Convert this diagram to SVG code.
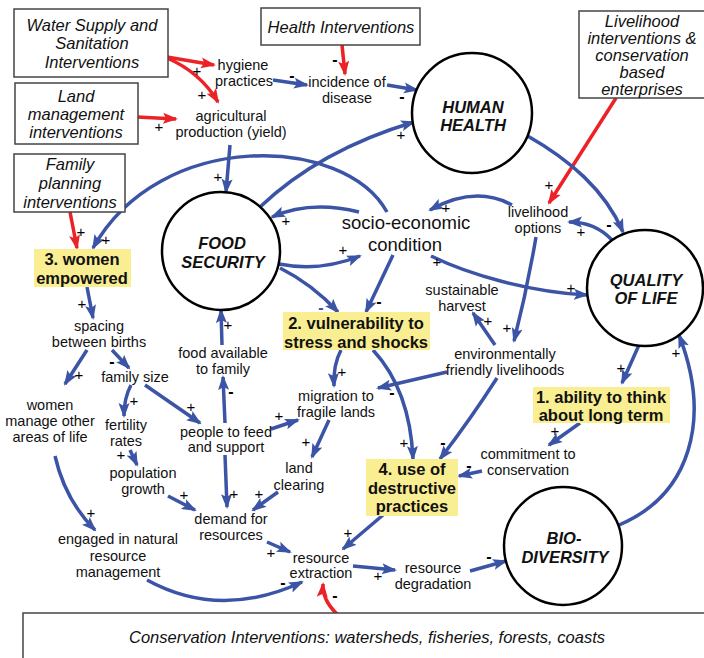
<svg xmlns="http://www.w3.org/2000/svg" width="704" height="658" viewBox="0 0 704 658">
<defs>
<marker id="ab" markerUnits="userSpaceOnUse" markerWidth="16" markerHeight="12" refX="13" refY="6" orient="auto"><path d="M0,0.5 L15,6 L0,11.5 L3,6 z" fill="#3b54a5"/></marker>
<marker id="ar" markerUnits="userSpaceOnUse" markerWidth="16" markerHeight="12" refX="13" refY="6" orient="auto"><path d="M0,0.5 L15,6 L0,11.5 L3,6 z" fill="#ec2227"/></marker>
<style>
text{font-family:"Liberation Sans",Arial,sans-serif;fill:#111;text-anchor:middle}
.lbl{font-size:14.5px}
.se{font-size:18.5px}
.bx{font-size:16.5px;font-style:italic}
.hl{font-size:16.5px;font-weight:bold}
.ct{font-size:16.5px;font-weight:bold;font-style:italic}
.sg{font-size:15px;fill:#000}
.mn{font-size:16px;font-weight:bold;fill:#000}
.box{fill:#fff;stroke:#444;stroke-width:1.5}
.yel{fill:#f9ee91}
.circ{fill:#fff;stroke:#000;stroke-width:2.5}
.b{fill:none;stroke:#3b54a5;stroke-width:3.5;marker-end:url(#ab)}
.r{fill:none;stroke:#ec2227;stroke-width:3.5;marker-end:url(#ar)}
</style>
</defs>
<rect width="704" height="658" fill="#fff"/>

<g id="connectors">
<path class="r" d="M167 57 L214 65"/>
<path class="r" d="M167 58 Q200 72 218 102"/>
<path class="r" d="M137 117 L176 119"/>
<path class="r" d="M342 45 L345 74"/>
<path class="r" d="M616 98 L549 203"/>
<path class="r" d="M70 212 L77 248"/>
<path class="r" d="M338 615 Q322 600 323 584"/>

<path class="b" d="M273 80 L307 85"/>
<path class="b" d="M387 85 L417 90"/>
<path class="b" d="M230 145 L226 192"/>
<path class="b" d="M260 207 Q320 150 414 122"/>
<path class="b" d="M387 212 C345 135 160 128 93 248"/>
<path class="b" d="M526 135 C570 160 605 190 623 232"/>
<path class="b" d="M359 212 Q310 200 272 217"/>
<path class="b" d="M279 264 Q320 272 360 256"/>
<path class="b" d="M280 268 Q312 284 338 312"/>
<path class="b" d="M393 255 L366 312"/>
<path class="b" d="M612 240 Q595 222 569 222"/>
<path class="b" d="M512 205 Q475 185 430 210"/>
<path class="b" d="M536 237 Q527 290 514 341"/>
<path class="b" d="M431 256 C470 275 530 292 587 295"/>
<path class="b" d="M495 345 L473 313"/>
<path class="b" d="M447 372 L378 388"/>
<path class="b" d="M497 378 Q470 420 440 459"/>
<path class="b" d="M373 350 Q410 390 413 459"/>
<path class="b" d="M341 350 Q333 365 334 386"/>
<path class="b" d="M639 345 L622 383"/>
<path class="b" d="M619 525 C690 495 712 420 679 335"/>
<path class="b" d="M580 423 L549 445"/>
<path class="b" d="M482 471 L459 476"/>
<path class="b" d="M383 515 L343 549"/>
<path class="b" d="M353 566 L395 570"/>
<path class="b" d="M470 571 L506 561"/>
<path class="b" d="M147 580 Q220 620 302 582"/>
<path class="b" d="M267 542 L290 552"/>
<path class="b" d="M278 492 L253 510"/>
<path class="b" d="M329 420 L312 457"/>
<path class="b" d="M271 429 L298 420"/>
<path class="b" d="M225 423 L223 377"/>
<path class="b" d="M222 345 L221 310"/>
<path class="b" d="M225 455 L227 507"/>
<path class="b" d="M168 496 L195 510"/>
<path class="b" d="M145 385 L200 423"/>
<path class="b" d="M131 385 Q124 398 124 416"/>
<path class="b" d="M130 450 L137 465"/>
<path class="b" d="M112 350 L129 368"/>
<path class="b" d="M87 350 L65 384"/>
<path class="b" d="M87 287 L93 318"/>
<path class="b" d="M55 456 Q65 500 95 530"/>
</g>

<g id="signs">
<text class="sg" x="197" y="76">+</text>
<text class="sg" x="202" y="100">+</text>
<text class="sg" x="159" y="132">+</text>
<text class="mn" x="335" y="65">-</text>
<text class="sg" x="549" y="190">+</text>
<text class="sg" x="81" y="237">+</text>
<text class="mn" x="335" y="601">-</text>
<text class="mn" x="292" y="81">-</text>
<text class="mn" x="402" y="102">-</text>
<text class="sg" x="218" y="182">+</text>
<text class="sg" x="401" y="140">+</text>
<text class="sg" x="106" y="245">+</text>
<text class="mn" x="609" y="230">-</text>
<text class="sg" x="286" y="226">+</text>
<text class="sg" x="343" y="255">+</text>
<text class="mn" x="321" y="313" style="fill:#3b54a5">-</text>
<text class="mn" x="379" y="307">-</text>
<text class="sg" x="446" y="213">+</text>
<text class="sg" x="581" y="237">+</text>
<text class="sg" x="507" y="333">+</text>
<text class="sg" x="571" y="293">+</text>
<text class="sg" x="437" y="267">+</text>
<text class="sg" x="488" y="326">+</text>
<text class="mn" x="392" y="398">-</text>
<text class="mn" x="443" y="448">-</text>
<text class="sg" x="404" y="448">+</text>
<text class="sg" x="342" y="377">+</text>
<text class="sg" x="621" y="373">+</text>
<text class="sg" x="676" y="358">+</text>
<text class="sg" x="555" y="436">+</text>
<text class="mn" x="469" y="471">-</text>
<text class="sg" x="348" y="538">+</text>
<text class="sg" x="378" y="581">+</text>
<text class="mn" x="489" y="562">-</text>
<text class="mn" x="283" y="588">-</text>
<text class="sg" x="271" y="558">+</text>
<text class="sg" x="259" y="499">+</text>
<text class="sg" x="234" y="499">+</text>
<text class="sg" x="306" y="447">+</text>
<text class="sg" x="279" y="421">+</text>
<text class="mn" x="231" y="397">-</text>
<text class="sg" x="228" y="330">+</text>
<text class="sg" x="184" y="500">+</text>
<text class="sg" x="191" y="412">+</text>
<text class="sg" x="134" y="406">+</text>
<text class="sg" x="121" y="460">+</text>
<text class="mn" x="112" y="367">-</text>
<text class="sg" x="79" y="380">+</text>
<text class="sg" x="82" y="309">+</text>
<text class="sg" x="91" y="518">+</text>
</g>

<g id="water-supply">
<rect class="box" x="14" y="9" width="154" height="68"/>
<text class="bx" x="92" y="31">Water Supply and</text>
<text class="bx" x="92" y="49">Sanitation</text>
<text class="bx" x="92" y="68">Interventions</text>
</g>
<g id="land-management">
<rect class="box" x="15" y="83" width="123" height="61"/>
<text class="bx" x="76" y="102">Land</text>
<text class="bx" x="76" y="120">management</text>
<text class="bx" x="76" y="138">interventions</text>
</g>
<g id="family-planning">
<rect class="box" x="14" y="154" width="111" height="58"/>
<text class="bx" x="70" y="170">Family</text>
<text class="bx" x="70" y="189">planning</text>
<text class="bx" x="70" y="208">interventions</text>
</g>
<g id="health-interventions">
<rect class="box" x="261" y="8" width="159" height="37"/>
<text class="bx" x="341" y="33">Health Interventions</text>
</g>
<g id="livelihood-interventions">
<rect class="box" x="579" y="11" width="135" height="87"/>
<text class="bx" x="642" y="27">Livelihood</text>
<text class="bx" x="642" y="44">interventions &amp;</text>
<text class="bx" x="642" y="61">conservation</text>
<text class="bx" x="642" y="78">based</text>
<text class="bx" x="642" y="95">enterprises</text>
</g>
<g id="conservation-interventions">
<rect class="box" x="23" y="613" width="700" height="60"/>
<text class="bx" x="367" y="643">Conservation Interventions: watersheds, fisheries, forests, coasts</text>
</g>

<g id="human-health">
<circle class="circ" cx="472" cy="113" r="60"/>
<text class="ct" x="473" y="113">HUMAN</text>
<text class="ct" x="473" y="131">HEALTH</text>
</g>
<g id="food-security">
<circle class="circ" cx="221" cy="251" r="59"/>
<text class="ct" x="222" y="249">FOOD</text>
<text class="ct" x="223" y="268">SECURITY</text>
</g>
<g id="quality-of-life">
<circle class="circ" cx="645" cy="288" r="58"/>
<text class="ct" x="646" y="286">QUALITY</text>
<text class="ct" x="646" y="304">OF LIFE</text>
</g>
<g id="biodiversity">
<circle class="circ" cx="563" cy="546" r="59"/>
<text class="ct" x="564" y="544">BIO-</text>
<text class="ct" x="565" y="563">DIVERSITY</text>
</g>

<g id="women-empowered">
<rect class="yel" x="34" y="249" width="97" height="38"/>
<text class="hl" x="82" y="265">3. women</text>
<text class="hl" x="82" y="284">empowered</text>
</g>
<g id="vulnerability">
<rect class="yel" x="283" y="312" width="147" height="38"/>
<text class="hl" x="356" y="329">2. vulnerability to</text>
<text class="hl" x="356" y="348">stress and shocks</text>
</g>
<g id="ability-long-term">
<rect class="yel" x="533" y="387" width="137" height="36"/>
<text class="hl" x="601" y="403">1. ability to think</text>
<text class="hl" x="601" y="421">about long term</text>
</g>
<g id="destructive-practices">
<rect class="yel" x="366" y="459" width="92" height="57"/>
<text class="hl" x="412" y="475">4. use of</text>
<text class="hl" x="412" y="494">destructive</text>
<text class="hl" x="412" y="512">practices</text>
</g>

<g id="socio-economic">
<text class="se" x="406" y="229">socio-economic</text>
<text class="se" x="405" y="251">condition</text>
</g>
<g id="hygiene"><text class="lbl" x="243" y="70">hygiene</text><text class="lbl" x="244" y="86">practices</text></g>
<g id="incidence"><text class="lbl" x="347" y="87">incidence of</text><text class="lbl" x="347" y="103">disease</text></g>
<g id="agricultural"><text class="lbl" x="231" y="121">agricultural</text><text class="lbl" x="231" y="137">production (yield)</text></g>
<g id="livelihood-options"><text class="lbl" x="538" y="217">livelihood</text><text class="lbl" x="538" y="233">options</text></g>
<g id="sustainable-harvest"><text class="lbl" x="462" y="295">sustainable</text><text class="lbl" x="462" y="311">harvest</text></g>
<g id="env-friendly"><text class="lbl" x="505" y="359">environmentally</text><text class="lbl" x="505" y="375">friendly livelihoods</text></g>
<g id="spacing"><text class="lbl" x="99" y="331">spacing</text><text class="lbl" x="99" y="347">between births</text></g>
<g id="family-size"><text class="lbl" x="135" y="382">family size</text></g>
<g id="women-manage"><text class="lbl" x="50" y="410">women</text><text class="lbl" x="50" y="426">manage other</text><text class="lbl" x="50" y="442">areas of life</text></g>
<g id="fertility"><text class="lbl" x="126" y="430">fertility</text><text class="lbl" x="126" y="446">rates</text></g>
<g id="food-available"><text class="lbl" x="223" y="358">food available</text><text class="lbl" x="223" y="374">to family</text></g>
<g id="people-to-feed"><text class="lbl" x="226" y="437">people to feed</text><text class="lbl" x="226" y="452">and support</text></g>
<g id="migration"><text class="lbl" x="336" y="401">migration to</text><text class="lbl" x="336" y="417">fragile lands</text></g>
<g id="population"><text class="lbl" x="143" y="478">population</text><text class="lbl" x="143" y="494">growth</text></g>
<g id="land-clearing"><text class="lbl" x="299" y="473">land</text><text class="lbl" x="299" y="490">clearing</text></g>
<g id="demand"><text class="lbl" x="231" y="524">demand for</text><text class="lbl" x="231" y="540">resources</text></g>
<g id="commitment"><text class="lbl" x="528" y="459">commitment to</text><text class="lbl" x="528" y="475">conservation</text></g>
<g id="engaged"><text class="lbl" x="118" y="544">engaged in natural</text><text class="lbl" x="118" y="561">resource</text><text class="lbl" x="118" y="577">management</text></g>
<g id="extraction"><text class="lbl" x="321" y="563">resource</text><text class="lbl" x="321" y="578">extraction</text></g>
<g id="degradation"><text class="lbl" x="433" y="573">resource</text><text class="lbl" x="433" y="589">degradation</text></g>
</svg>
